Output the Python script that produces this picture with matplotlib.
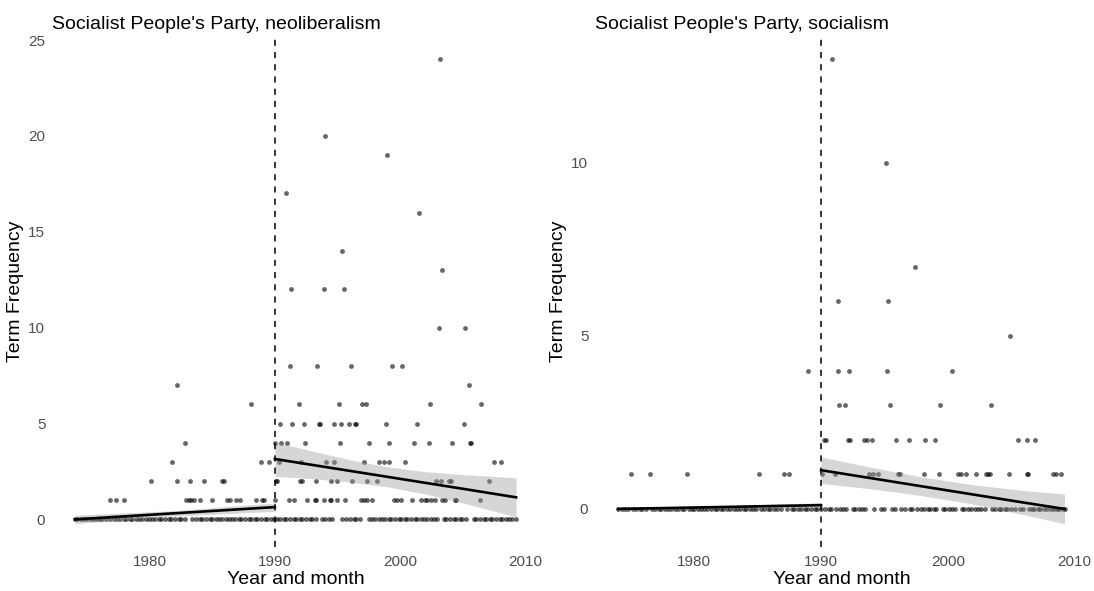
import matplotlib
matplotlib.use("Agg")
import matplotlib.pyplot as plt

plt.rcParams['font.family'] = ['Liberation Sans', 'DejaVu Sans']

# ---- neoliberalism panel: non-zero months (year, term frequency)
neo_x = [2003.2, 1994.0, 1999.0, 1990.9, 2001.5, 1995.4, 2003.4, 1991.3, 1993.9, 1995.5,
         2003.1, 2005.2,
         1991.2, 1993.4, 1996.1, 1999.4, 2000.2,
         1982.2, 2005.5,
         1988.1, 1991.9, 1995.1, 1997.0, 1997.3, 2002.4, 2006.5,
         1990.4, 1991.4, 1992.3, 1993.5, 1993.6, 1994.7, 1995.3, 1995.9, 1996.4, 1996.5,
         1998.9, 2001.4, 2005.1,
         1982.8, 1990.0, 1990.5, 1991.0, 1992.4, 1995.2, 1997.5, 1999.1, 2001.1, 2002.3,
         2004.2, 2005.6, 2005.7,
         1981.8, 1988.9, 1989.5, 1990.3, 1992.1, 1994.1, 1994.7, 1997.1, 1998.3, 1998.7,
         1999.1, 2000.4, 2007.5, 2008.1,
         1980.1, 1982.2, 1983.2, 1984.3, 1985.8, 1985.9, 1990.1, 1990.2, 1992.0, 1992.2,
         1993.3, 1994.5, 1995.0, 1996.2, 1997.4, 1998.2, 2002.9, 2003.3, 2003.9, 2004.1,
         2007.1,
         1976.8, 1977.3, 1977.9, 1982.9, 1983.1, 1983.3, 1983.5, 1984.0, 1985.0, 1986.2,
         1986.4, 1986.9, 1987.2, 1988.5, 1989.0, 1989.1, 1990.0, 1991.1, 1991.5, 1992.6,
         1993.2, 1993.3, 1993.9, 1994.4, 1994.5, 1995.0, 1995.6, 1996.9, 1997.1, 1997.4,
         1997.8, 1999.5, 1999.8, 2000.1, 2001.0, 2001.7, 2002.0, 2002.2, 2002.5, 2002.8,
         2003.4, 2003.6, 2004.4, 2004.5, 2006.4]
neo_y = [24, 20, 19, 17, 16, 14, 13, 12, 12, 12,
         10, 10,
         8, 8, 8, 8, 8,
         7, 7,
         6, 6, 6, 6, 6, 6, 6,
         5, 5, 5, 5, 5, 5, 5, 5, 5, 5,
         5, 5, 5,
         4, 4, 4, 4, 4, 4, 4, 4, 4, 4,
         4, 4, 4,
         3, 3, 3, 3, 3, 3, 3, 3, 3, 3,
         3, 3, 3, 3,
         2, 2, 2, 2, 2, 2, 2, 2, 2, 2,
         2, 2, 2, 2, 2, 2, 2, 2, 2, 2,
         2,
         1, 1, 1, 1, 1, 1, 1, 1, 1, 1,
         1, 1, 1, 1, 1, 1, 1, 1, 1, 1,
         1, 1, 1, 1, 1, 1, 1, 1, 1, 1,
         1, 1, 1, 1, 1, 1, 1, 1, 1, 1,
         1, 1, 1, 1, 1]
# months with zero mentions
neo_zero_x = [1974.0, 1974.2, 1974.5, 1974.7, 1975.0, 1975.3, 1975.5, 1975.8, 1976.0, 1976.2,
              1976.5, 1976.8, 1977.1, 1977.4, 1977.6, 1977.9, 1978.1, 1978.4, 1978.6, 1978.9,
              1979.1, 1979.4, 1979.7, 1979.9, 1980.2, 1980.4, 1980.7, 1980.9, 1981.2, 1981.5,
              1981.7, 1982.0, 1982.3, 1982.5, 1982.8, 1983.4, 1983.7, 1984.0, 1984.2, 1984.5,
              1984.8, 1985.0, 1985.3, 1985.5, 1985.8, 1986.1, 1986.3, 1986.6, 1986.8, 1987.1,
              1987.3, 1987.6, 1987.9, 1988.1, 1988.4, 1988.6, 1988.9, 1989.2, 1989.4, 1989.7,
              1989.9, 1990.2, 1990.4, 1990.7, 1990.9, 1991.2, 1991.5, 1991.7, 1992.0, 1992.2,
              1992.5, 1992.8, 1993.0, 1993.3, 1993.8, 1994.0, 1994.3, 1994.6, 1995.4, 1995.7,
              1996.0, 1996.3, 1996.5, 1996.8, 1997.5, 1997.8, 1998.0, 1998.3, 1998.6, 1998.8,
              1999.1, 1999.3, 1999.6, 1999.9, 2000.1, 2000.4, 2000.6, 2000.9, 2001.2, 2001.4,
              2001.7, 2001.9, 2002.2, 2002.5, 2002.7, 2003.0, 2003.5, 2003.7, 2004.0, 2004.3,
              2004.5, 2004.8, 2005.0, 2005.3, 2005.9, 2006.1, 2006.4, 2006.7, 2006.9, 2007.2,
              2007.4, 2007.7, 2008.0, 2008.2, 2008.5, 2008.7, 2009.0, 2009.3]

# fitted lines with confidence bands (before / after 1990)
neo_pre_x = [1974.0, 1982.0, 1990.0]
neo_pre_fit = [0.0, 0.32, 0.64]
neo_pre_lo = [-0.22, 0.18, 0.42]
neo_pre_hi = [0.22, 0.46, 0.86]
neo_post_x = [1990.0, 1993.0, 1996.0, 1999.0, 2002.0, 2005.0, 2009.3]
neo_post_fit = [3.15, 2.84, 2.53, 2.22, 1.91, 1.60, 1.15]
neo_post_lo = [2.25, 2.12, 1.95, 1.70, 1.33, 0.86, 0.13]
neo_post_hi = [4.05, 3.56, 3.11, 2.74, 2.49, 2.34, 2.17]

# ---- socialism panel
soc_x = [1990.9, 1995.1, 1997.4, 1991.3, 1995.3, 2004.9,
         1989.0, 1991.3, 1992.2, 1995.2, 2000.3,
         1991.4, 1991.9, 1995.4, 1999.4, 2003.4,
         1990.2, 1990.4, 1992.1, 1992.3, 1993.4, 1993.6, 1994.0, 1995.9, 1996.9, 1998.2,
         1999.0, 2005.5, 2006.2, 2006.9,
         1975.0, 1976.5, 1979.4, 1985.1, 1987.1, 1987.5,
         1990.1, 1991.1, 1993.8, 1994.1, 1994.5, 1996.1, 1996.2, 1998.1, 1999.3, 2000.8,
         2001.0, 2001.4, 2002.2, 2003.0, 2003.2, 2003.3, 2004.8, 2006.2, 2006.3, 2008.3,
         2008.5, 2008.9]
soc_y = [13, 10, 7, 6, 6, 5,
         4, 4, 4, 4, 4,
         3, 3, 3, 3, 3,
         2, 2, 2, 2, 2, 2, 2, 2, 2, 2,
         2, 2, 2, 2,
         1, 1, 1, 1, 1, 1,
         1, 1, 1, 1, 1, 1, 1, 1, 1, 1,
         1, 1, 1, 1, 1, 1, 1, 1, 1, 1,
         1, 1]
soc_zero_x = [1974.0, 1974.3, 1974.5, 1974.8, 1975.2, 1975.4, 1975.7, 1975.9, 1976.2, 1976.7,
              1976.9, 1977.2, 1977.4, 1977.7, 1977.9, 1978.2, 1978.5, 1978.7, 1979.0, 1979.2,
              1979.6, 1979.8, 1980.0, 1980.3, 1980.5, 1980.8, 1981.0, 1981.3, 1981.6, 1981.8,
              1982.1, 1982.3, 1982.6, 1982.8, 1983.1, 1983.4, 1983.6, 1983.9, 1984.1, 1984.4,
              1984.6, 1984.9, 1985.3, 1985.5, 1985.8, 1986.0, 1986.3, 1986.5, 1986.8, 1987.3,
              1987.7, 1987.9, 1988.2, 1988.4, 1988.7, 1988.9, 1989.2, 1989.5, 1989.7, 1990.0,
              1990.3, 1990.6, 1990.8, 1991.2, 1991.5, 1991.7, 1992.0, 1992.5, 1992.7, 1993.0,
              1993.2, 1993.5, 1994.2, 1994.7, 1995.0, 1995.6, 1995.8, 1996.3, 1996.6, 1997.0,
              1997.2, 1997.6, 1997.9, 1998.1, 1998.4, 1998.6, 1998.9, 1999.1, 1999.6, 1999.8,
              2000.1, 2000.3, 2000.6, 2001.1, 2001.3, 2001.6, 2001.8, 2002.1, 2002.4, 2002.6,
              2002.9, 2003.5, 2003.7, 2004.0, 2004.2, 2004.5, 2004.7, 2005.0, 2005.3, 2005.7,
              2005.9, 2006.4, 2006.6, 2006.8, 2007.1, 2007.3, 2007.6, 2007.8, 2008.1, 2008.4,
              2008.6, 2008.8, 2009.1, 2009.2]

soc_pre_x = [1974.0, 1982.0, 1990.0]
soc_pre_fit = [0.0, 0.055, 0.11]
soc_pre_lo = [-0.05, 0.02, 0.04]
soc_pre_hi = [0.05, 0.09, 0.18]
soc_post_x = [1990.0, 1994.0, 1998.0, 2002.0, 2006.0, 2009.2]
soc_post_fit = [1.12, 0.886, 0.651, 0.417, 0.183, 0.0]
soc_post_lo = [0.74, 0.58, 0.38, 0.14, -0.17, -0.43]
soc_post_hi = [1.50, 1.20, 0.92, 0.70, 0.53, 0.43]

cutoff = 1990
xticks = [1980, 1990, 2000, 2010]

fig = plt.figure(figsize=(10.94, 5.91), dpi=100)
ax1 = fig.add_axes([0.04845, 0.07445, 0.44333, 0.86464])
ax2 = fig.add_axes([0.54479, 0.07445, 0.44973, 0.86464])


def draw_panel(ax, x, y, zx, segments, title, ylim, yticks):
    ax.scatter(zx, [0] * len(zx), s=12, color='black', alpha=0.6, linewidths=0, zorder=2)
    ax.scatter(x, y, s=12, color='black', alpha=0.6, linewidths=0, zorder=2)
    for sx, fit, lo, hi in segments:
        ax.fill_between(sx, lo, hi, color='#999999', alpha=0.4, linewidth=0, zorder=3)
        ax.plot(sx, fit, color='black', linewidth=1.9, zorder=4)
    ax.axvline(cutoff, color='black', linewidth=1.1, linestyle=(0, (4, 4)), zorder=5)
    ax.set_xlim(1972.25, 2011.05)
    ax.set_ylim(*ylim)
    ax.set_xticks(xticks)
    ax.set_yticks(yticks)
    ax.tick_params(length=0, labelsize=11, labelcolor='#4d4d4d', pad=5.5)
    for s in ax.spines.values():
        s.set_visible(False)
    ax.set_xlabel('Year and month', fontsize=14, labelpad=2)
    ax.set_ylabel('Term Frequency', fontsize=14, labelpad=3)
    ax.set_title(title, loc='left', fontsize=14, pad=5, x=-0.003)


draw_panel(ax1, neo_x, neo_y, neo_zero_x,
           [(neo_pre_x, neo_pre_fit, neo_pre_lo, neo_pre_hi),
            (neo_post_x, neo_post_fit, neo_post_lo, neo_post_hi)],
           "Socialist People's Party, neoliberalism", (-1.44, 25.21), [0, 5, 10, 15, 20, 25])
draw_panel(ax2, soc_x, soc_y, soc_zero_x,
           [(soc_pre_x, soc_pre_fit, soc_pre_lo, soc_pre_hi),
            (soc_post_x, soc_post_fit, soc_post_lo, soc_post_hi)],
           "Socialist People's Party, socialism", (-1.1, 13.67), [0, 5, 10])

fig.savefig('out.png', dpi=100)
